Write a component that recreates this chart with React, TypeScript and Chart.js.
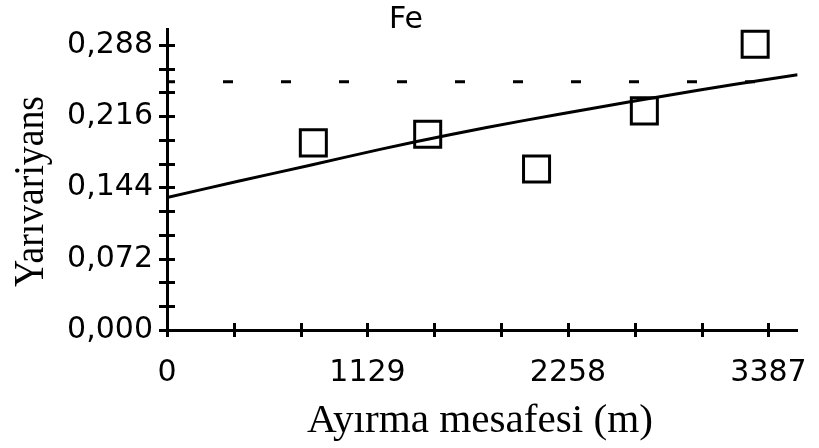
import React, { useEffect, useRef } from 'react';
import { Chart, registerables } from 'chart.js';

Chart.register(...registerables);

// ---- text ----
const CHART_TITLE = 'Fe';
const X_TITLE = 'Ayırma mesafesi (m)';
const Y_TITLE = 'Yarıvariyans';

// ---- axes ----
const X_MIN = 0;
const X_MAX = 3551;
const Y_MIN = 0;
const Y_MAX = 0.304;
const X_MAJOR_TICKS = [0, 1129, 2258, 3387];
const X_TICK_LABELS = ['0', '1129', '2258', '3387'];
const Y_MAJOR_TICKS = [0, 0.072, 0.144, 0.216, 0.288];
const Y_TICK_LABELS = ['0,000', '0,072', '0,144', '0,216', '0,288'];
const MINOR_DIVISIONS = 3;

// ---- experimental semivariogram (open squares) ----
const LAG_DISTANCE = [824, 1468, 2081, 2688, 3312];
const SEMIVARIANCE = [0.189, 0.1976, 0.1627, 0.2213, 0.2885];

// ---- fitted model curve ----
const MODEL_DISTANCE = [0, 400, 800, 1200, 1600, 2000, 2400, 2800, 3200, 3551];
const MODEL_VALUE = [0.1339, 0.1502, 0.1662, 0.1824, 0.1975, 0.2112, 0.224, 0.2364, 0.2482, 0.2577];

// ---- sill (dashed) ----
const SILL_VALUE = 0.2506;

// target plot rectangle in the 819x448 frame
const AREA = { left: 167, top: 29, right: 805, bottom: 330 };

function withMinors(majors: number[]): number[] {
  const out: number[] = [];
  for (let i = 0; i < majors.length; i++) {
    out.push(majors[i]);
    if (i < majors.length - 1) {
      const step = (majors[i + 1] - majors[i]) / MINOR_DIVISIONS;
      for (let k = 1; k < MINOR_DIVISIONS; k++) out.push(majors[i] + k * step);
    }
  }
  return out;
}

function labelFor(value: number, majors: number[], labels: string[]): string {
  for (let i = 0; i < majors.length; i++) {
    if (Math.abs(value - majors[i]) < 1e-6 * Math.max(1, Math.abs(majors[i]))) return labels[i];
  }
  return '';
}

const decorPlugin = {
  id: 'decor',
  afterDraw(chart: any) {
    const ctx = chart.ctx as CanvasRenderingContext2D;
    const xs = chart.scales.x;
    const ys = chart.scales.y;
    ctx.save();
    ctx.strokeStyle = '#000';
    ctx.lineWidth = 3;
    ctx.lineCap = 'butt';
    const axisX = chart.chartArea.left;
    const axisY = chart.chartArea.bottom;
    for (const t of ys.ticks) {
      const y = Math.round(ys.getPixelForValue(t.value)) + 0.5;
      ctx.beginPath();
      ctx.moveTo(axisX - 8, y);
      ctx.lineTo(axisX + 8, y);
      ctx.stroke();
    }
    for (const t of xs.ticks) {
      const x = Math.round(xs.getPixelForValue(t.value)) + 0.5;
      ctx.beginPath();
      ctx.moveTo(x, axisY - 7);
      ctx.lineTo(x, axisY + 7);
      ctx.stroke();
    }

    ctx.fillStyle = '#000';
    ctx.font = '30px "DejaVu Sans"';
    ctx.textAlign = 'center';
    ctx.textBaseline = 'alphabetic';
    ctx.fillText(CHART_TITLE, 406, 28);

    ctx.save();
    ctx.font = '39px "Liberation Serif"';
    const wx = ctx.measureText(X_TITLE).width;
    ctx.translate(480, 432);
    ctx.scale(346 / wx, 1);
    ctx.fillText(X_TITLE, 0, 0);
    ctx.restore();

    ctx.save();
    ctx.font = '42px "Liberation Serif"';
    const wy = ctx.measureText(Y_TITLE).width;
    ctx.translate(43, 191.5);
    ctx.rotate(-Math.PI / 2);
    ctx.scale(191 / wy, 1);
    ctx.fillText(Y_TITLE, 0, 0);
    ctx.restore();

    ctx.restore();
  },
};

export default function App() {
  const canvasRef = useRef<HTMLCanvasElement | null>(null);

  useEffect(() => {
    const canvas = canvasRef.current;
    if (!canvas) return;
    const xTicks = withMinors(X_MAJOR_TICKS);
    const yTicks = withMinors(Y_MAJOR_TICKS);
    const pad = { left: 0, top: AREA.top, right: 819 - AREA.right, bottom: 0 };

    const chart = new Chart(canvas, {
      type: 'scatter',
      data: {
        datasets: [
          {
            type: 'line',
            label: 'sill',
            data: [
              { x: X_MIN, y: SILL_VALUE },
              { x: X_MAX, y: SILL_VALUE },
            ],
            borderColor: '#000',
            borderWidth: 3,
            borderDash: [10, 48],
            borderDashOffset: 2,
            pointRadius: 0,
            fill: false,
            tension: 0,
          } as any,
          {
            type: 'line',
            label: 'model',
            data: MODEL_DISTANCE.map((x, i) => ({ x, y: MODEL_VALUE[i] })),
            borderColor: '#000',
            borderWidth: 3,
            pointRadius: 0,
            fill: false,
            tension: 0.2,
          } as any,
          {
            type: 'scatter',
            label: 'experimental',
            data: LAG_DISTANCE.map((x, i) => ({ x, y: SEMIVARIANCE[i] })),
            pointStyle: 'rect',
            pointRadius: 18.4,
            pointBorderWidth: 3,
            pointBorderColor: '#000',
            pointBackgroundColor: 'rgba(0,0,0,0)',
          } as any,
        ],
      },
      options: {
        responsive: false,
        animation: false,
        devicePixelRatio: 1,
        layout: { padding: pad },
        plugins: {
          legend: { display: false },
          title: { display: false },
          tooltip: { enabled: false },
        },
        scales: {
          x: {
            type: 'linear',
            min: X_MIN,
            max: X_MAX,
            bounds: 'data',
            grid: { display: false, drawTicks: false },
            border: { display: true, color: '#000', width: 3 },
            afterBuildTicks: (scale: any) => {
              scale.ticks = xTicks.map((v) => ({ value: v }));
            },
            afterFit: (scale: any) => {
              scale.height = 448 - AREA.bottom;
              scale.paddingLeft = 0;
              scale.paddingRight = 0;
            },
            ticks: {
              autoSkip: false,
              maxRotation: 0,
              padding: 25,
              color: '#000',
              font: { family: '"DejaVu Sans"', size: 30 },
              callback: (v: any) => labelFor(Number(v), X_MAJOR_TICKS, X_TICK_LABELS),
            },
          },
          y: {
            type: 'linear',
            min: Y_MIN,
            max: Y_MAX,
            bounds: 'data',
            grid: { display: false, drawTicks: false },
            border: { display: true, color: '#000', width: 3 },
            afterBuildTicks: (scale: any) => {
              scale.ticks = yTicks.map((v) => ({ value: v }));
            },
            afterFit: (scale: any) => {
              scale.width = AREA.left;
              scale.paddingTop = 0;
              scale.paddingBottom = 0;
            },
            ticks: {
              autoSkip: false,
              padding: 14,
              color: '#000',
              font: { family: '"DejaVu Sans"', size: 30 },
              callback: (v: any) => labelFor(Number(v), Y_MAJOR_TICKS, Y_TICK_LABELS),
            },
          },
        },
      } as any,
      plugins: [decorPlugin],
    });

    return () => chart.destroy();
  }, []);

  return (
    <div style={{ position: 'fixed', left: 0, top: 0, width: 819, height: 448, background: '#fff' }}>
      <canvas ref={canvasRef} width={819} height={448} style={{ display: 'block' }} />
    </div>
  );
}
